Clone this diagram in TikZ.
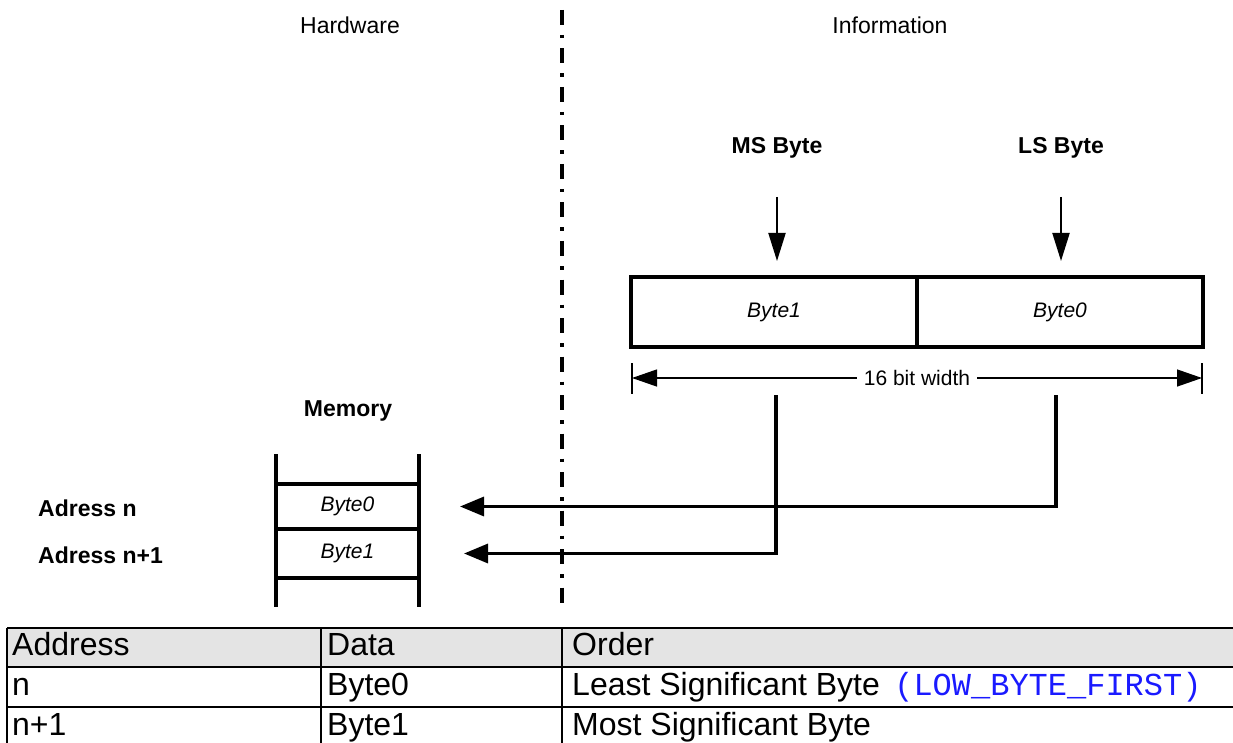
\documentclass[tikz,border=0pt]{standalone}
\usepackage{fontspec}
\setmainfont{Liberation Sans}
\setmonofont{Liberation Mono}
\usepackage{xcolor}
\usetikzlibrary{arrows.meta, positioning}

\definecolor{headgrey}{HTML}{E4E4E4}
\definecolor{codeblue}{HTML}{1A1AFF}

\tikzset{
  title/.style={font=\fontsize{23}{27}\selectfont},
  bold label/.style={font=\bfseries\fontsize{23}{27}\selectfont},
  byte/.style={font=\itshape\fontsize{21}{25}\selectfont},
  table text/.style={font=\fontsize{32}{38}\selectfont, anchor=base west, inner sep=0pt},
  thin line/.style={line width=1.3pt},
  mid line/.style={line width=2pt},
  thick line/.style={line width=3.3pt},
  table line/.style={line width=2.5pt},
  down head/.style={-{Triangle[length=28pt,width=17pt]}},
  left head/.style={-{Triangle[length=24pt,width=19pt]}},
  dim head/.style={{Triangle[length=25pt,width=17pt]}-{Triangle[length=25pt,width=17pt]}},
  divider/.style={line width=3.2pt, dash pattern=on 15pt off 10pt on 3.5pt off 10pt}
}

\begin{document}
\begin{tikzpicture}[x=1pt, y=-1pt]
  \useasboundingbox (0,0) rectangle (1233,743);
  \clip (0,0) rectangle (1233,743);

  \node [title] (hardware) at (350,25) {Hardware};
  \node [title] (information) at (890,25) {Information};

  \coordinate (div-top) at (562,10);
  \coordinate (div-bot) at (562,612);
  \draw [divider] (div-top) -- (div-bot);

  \node [bold label] (ms-byte) at (777,148) {MS Byte};
  \node [bold label] (ls-byte) at (1061,148) {LS Byte};

  \node [byte, draw, thick line, outer sep=0pt, minimum width=286pt, minimum height=70pt] (word-1) at (774,312) {Byte1};
  \node [byte, draw, thick line, outer sep=0pt, minimum width=286pt, minimum height=70pt, right=0pt of word-1] (word-0) {Byte0};

  \foreach \n in {ms-byte, ls-byte}
    \draw [mid line, down head, shorten <=35pt, shorten >=16pt] (\n) -- (\n |- word-1.north);

  \coordinate (dim-l) at (632,378);
  \coordinate (dim-r) at (1202,378);
  \foreach \c in {dim-l, dim-r}
    \draw [thin line] ([yshift=15pt]\c) -- ([yshift=-16pt]\c);
  \draw [thin line, dim head] (dim-l) -- (dim-r)
    node [midway, fill=white, inner xsep=7pt, font=\fontsize{21}{25}\selectfont] (width-label) {16 bit width};

  \node [bold label] (memory) at (348,411) {Memory};
  \node [byte, minimum width=143pt, minimum height=45pt, outer sep=0pt] (mem-0) at (347.5,506.5) {Byte0};
  \node [byte, minimum width=143pt, minimum height=49pt, outer sep=0pt, below=0pt of mem-0] (mem-1) {Byte1};

  \foreach \s in {west, east}
    \draw [thick line] ([yshift=30pt]mem-0.north \s) -- ([yshift=-29pt]mem-1.south \s);
  \foreach \c in {mem-0.north, mem-1.north, mem-1.south}
    \draw [thick line] (\c\space west) -- (\c\space east);

  \node [bold label, anchor=west, inner sep=0pt] (adr-0) at (38,508) {Adress n};
  \node [bold label, anchor=west, inner sep=0pt] (adr-1) at (38,555) {Adress n+1};

  \coordinate (ls-tap) at (1056,395);
  \coordinate (ms-tap) at (776,395);
  \draw [thick line, left head, shorten >=41pt] (ls-tap) |- (mem-0.east);
  \draw [thick line, left head, shorten >=45pt] (ms-tap) |- (mem-1.east);

  \fill [headgrey] (7,628) rectangle (1240,667);
  \foreach \y in {628,667,707}
    \draw [table line] (7,\y) -- (1240,\y);
  \foreach \x in {7,321,562}
    \draw [table line] (\x,628) -- (\x,760);

  \foreach \a/\d/\o [count=\r from 0] in {Address/Data/Order, n/Byte0/Least Significant Byte, n+1/Byte1/Most Significant Byte}
  {
    \node [table text] (cell-\r-a) at (12,655+\r*40) {\a};
    \node [table text] (cell-\r-d) at (327,655+\r*40) {\d};
    \node [table text] (cell-\r-o) at (572,655+\r*40) {\o};
  }
  \node [table text, text=codeblue, font=\ttfamily\fontsize{32}{38}\selectfont, right=14pt of cell-1-o.base east, anchor=base west] (low-first) {(LOW\_BYTE\_FIRST)};

\end{tikzpicture}
\end{document}
